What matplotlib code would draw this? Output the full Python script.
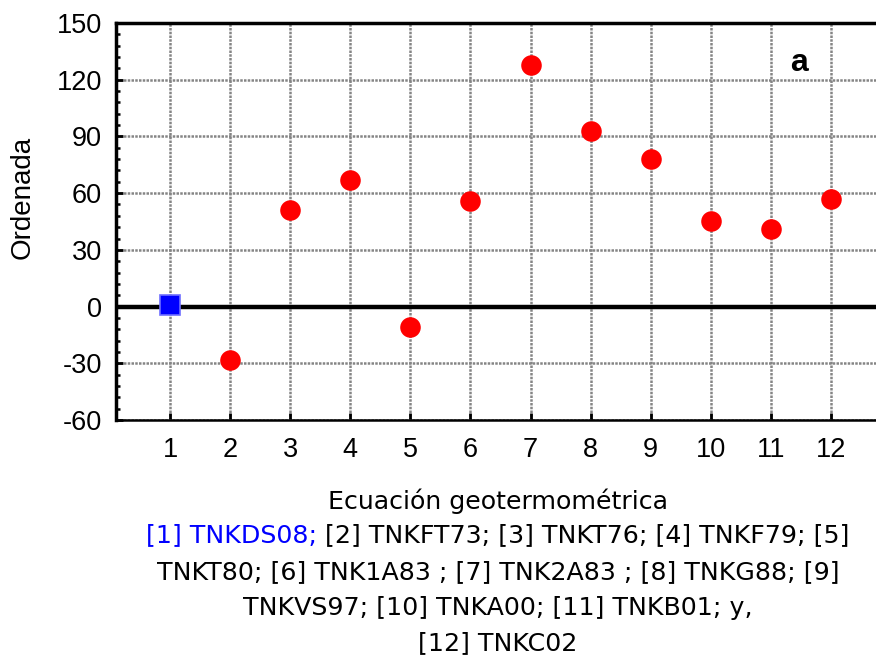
import numpy as np
import matplotlib
matplotlib.use('Agg')
import matplotlib.pyplot as plt
from matplotlib.ticker import MultipleLocator

plt.rcParams['font.family'] = ['Liberation Sans', 'DejaVu Sans']
plt.rcParams['axes.unicode_minus'] = False

# ordenada por ecuacion geotermometrica
ecuacion = [1, 2, 3, 4, 5, 6, 7, 8, 9, 10, 11, 12]
ordenada = [1, -28, 51, 67, -11, 56, 128, 93, 78, 45, 41, 57]

fig = plt.figure(figsize=(8.76, 6.66), dpi=100)
ax = fig.add_axes([116/876, 246/666, 760/876, 397/666])

# referencia y resto de ecuaciones
ax.plot(ecuacion[:1], ordenada[:1], 's', color='#0000ff', mec='#6f6fff',
        mew=1.2, ms=14.5, zorder=5, clip_on=False)
ax.plot(ecuacion[1:], ordenada[1:], 'o', color='#ff0000', ms=14.8, mew=0,
        zorder=5)
ax.axhline(0, color='black', lw=3.2, zorder=4)

ax.set_xlim(0.1, 12.75)
ax.set_ylim(-60, 150)
ax.set_xticks(ecuacion)
ax.yaxis.set_major_locator(MultipleLocator(30))
ax.yaxis.set_minor_locator(MultipleLocator(6))

ax.grid(True, which='major', color='#858585', linestyle=(0, (1, 0.5)), lw=1.8)
ax.set_axisbelow(True)

ax.spines['right'].set_visible(False)
ax.spines['left'].set_linewidth(2.5)
ax.spines['top'].set_linewidth(2.5)
ax.spines['bottom'].set_linewidth(1.8)

ax.tick_params(axis='both', which='major', direction='in', length=5, width=2,
               labelsize=19.5, pad=10)
ax.tick_params(axis='x', pad=12)
ax.tick_params(axis='y', which='minor', direction='in', length=3, width=1.8)
ax.tick_params(axis='x', which='both', top=False)

ax.text(11.47, 129, 'a', fontsize=23, fontweight='bold', ha='center',
        va='center')

fig.text(23/876, 1 - 197/666, 'Ordenada', rotation=90, fontsize=20,
         ha='center', va='center')

# pie con la lista de ecuaciones
pie = ['Ecuación geotermométrica',
       None,
       'TNKT80; [6] TNK1A83 ; [7] TNK2A83 ; [8] TNKG88; [9]',
       'TNKVS97; [10] TNKA00; [11] TNKB01; y,',
       '[12] TNKC02']
ys = [501, 535, 572, 608, 643]
xc = 498/876
pie_fuente = ['DejaVu Sans']
pie_tam = 18.2
for txt, y in zip(pie, ys):
    if txt is None:
        continue
    fig.text(xc, 1 - y/666, txt, fontsize=pie_tam, family=pie_fuente,
             ha='center', va='center')

azul = fig.text(xc, 1 - ys[1]/666, '[1] TNKDS08;', fontsize=pie_tam,
                family=pie_fuente, color='#0000ff', ha='left', va='center')
resto = ax.annotate(' [2] TNKFT73; [3] TNKT76; [4] TNKF79; [5]', xy=(1, 0.5),
                    xycoords=azul, fontsize=pie_tam, family=pie_fuente,
                    ha='left', va='center', annotation_clip=False)

# centrar la linea de dos colores
r = fig.canvas.get_renderer()
ancho = (azul.get_window_extent(r).width + resto.get_window_extent(r).width)
azul.set_x(xc - ancho / 2 / fig.bbox.width)

fig.savefig('out.png', dpi=100)
